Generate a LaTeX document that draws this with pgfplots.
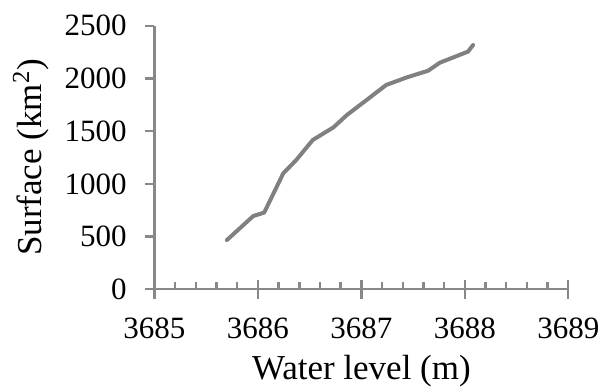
\documentclass[border=0pt]{standalone}
\usepackage{pgfplots}
\pgfplotsset{compat=1.18}
\usepackage{fontspec}
\setmainfont{Liberation Serif}
\definecolor{axgray}{RGB}{136,136,136}
\definecolor{linegray}{RGB}{128,128,128}
\begin{document}
\begin{tikzpicture}
\begin{axis}[
  scale only axis,
  width=206.9pt, height=131.8pt,
  at={(0pt,0pt)}, anchor=origin,
  xmin=3685, xmax=3689, ymin=0, ymax=2500,
  axis lines=left,
  axis line style={axgray, line width=1.2pt, -},
  xtick={3685,3686,3687,3688,3689},
  ytick={0,500,1000,1500,2000,2500},
  minor x tick num=4,
  xtick align=inside,
  ytick align=outside,
  major tick length=4.67pt,
  minor tick length=3.8pt,
  tick style={axgray, line width=1.2pt},
  extra x ticks={3685,3686,3687,3688,3689},
  extra x tick labels={},
  extra x tick style={xtick align=outside, tick style={axgray, line width=1.2pt}},
  /pgf/number format/1000 sep={},
  /pgf/number format/assume math mode=true,
  ticklabel style={font=\fontsize{15.5}{18}\selectfont, inner sep=0pt},
  yticklabel style={anchor=east, xshift=-9.1pt},
  xticklabel style={anchor=north, yshift=-14pt},
  xlabel={Water level (m)},
  ylabel={Surface (km\textsuperscript{2})},
  every axis x label/.style={at={(0.5,0)}, anchor=base, yshift=-45.35pt, font=\fontsize{17.5}{21}\selectfont},
  every axis y label/.style={at={(0,0.5)}, anchor=base, rotate=90, yshift=56.4pt, font=\fontsize{17.5}{21}\selectfont},
]
\addplot[linegray, line width=2pt, line join=round, line cap=round] coordinates {
(3685.70,467) (3685.955,695) (3686.06,727) (3686.245,1100) (3686.37,1226)
(3686.53,1416) (3686.73,1536) (3686.86,1653) (3687.05,1795) (3687.24,1938)
(3687.44,2010) (3687.645,2073) (3687.76,2150) (3687.89,2200) (3688.03,2254)
(3688.08,2317)
};
\end{axis}
\pgfresetboundingbox
\path (-77.25pt,-50.85pt) rectangle (223.75pt,144.65pt);
\end{tikzpicture}
\end{document}
